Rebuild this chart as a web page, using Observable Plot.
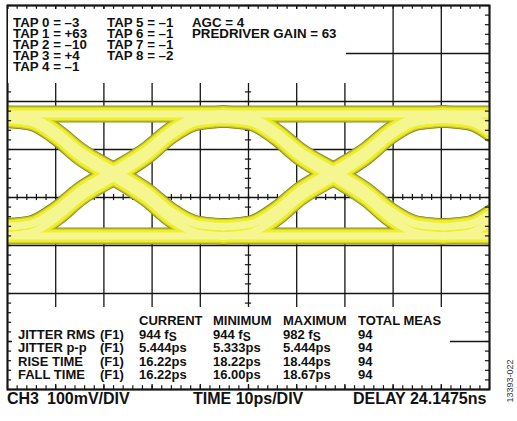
<!DOCTYPE html>
<html><head><meta charset="utf-8">
<script src="https://cdn.jsdelivr.net/npm/d3@7"></script>
<script src="https://cdn.jsdelivr.net/npm/@observablehq/plot@0.6"></script>
<style>
body{margin:0;background:#fff;}
#wrap{position:relative;width:517px;height:421px;overflow:hidden;font-family:"Liberation Sans",Arial,Helvetica,sans-serif;font-weight:bold;color:#111;}
#wrap svg{position:absolute;left:0;top:0;}
.box{position:absolute;background:#fff;}
.col{position:absolute;white-space:pre;}
.foot{position:absolute;white-space:pre;font-size:16px;line-height:16px;top:390.5px;}
.fig{position:absolute;font-weight:normal;font-size:9px;color:#333;white-space:nowrap;transform:translate(-50%,-50%) rotate(-90deg);}
</style></head><body><div id="wrap"></div>
<script>
// ---- axes (time in ps, 10 ps/div; voltage in mV, 100 mV/div) ----
const timeDivs = [0,10,20,30,40,50,60,70,80,90,100];
const voltDivs = [-400,-300,-200,-100,0,100,200,300,400];
const minorTime = d3.range(0, 100.01, 2);
const minorVolt = d3.range(-400, 400.01, 20);

// ---- eye diagram ----
const crossingTimes = [22.0, 67.6, 113.2];           // ps
const levelHigh = 174, levelHighIsolated = 163;      // mV
const levelLow = -80, levelLowIsolated = -61;        // mV
const edgeOffsets   = [-22.8, -17.2, -12.0, -6.8, 0, 6.8, 12.0, 17.2, 22.8]; // ps from crossing
const edgeFractions = [0, 0.025, 0.15, 0.33, 0.5, 0.68, 0.86, 0.975, 1];
const traceStarts = [levelHigh, levelHigh, levelHighIsolated, levelHighIsolated,
                     levelLow, levelLow, levelLowIsolated, levelLowIsolated, levelHigh, levelLow];
const traceEnds   = [levelLow, levelLowIsolated, levelLow, levelLowIsolated,
                     levelHigh, levelHighIsolated, levelHigh, levelHighIsolated, levelHigh, levelLow];

// ---- text ----
const tapCol1 = ["TAP 0 = –3","TAP 1 = +63","TAP 2 = –10","TAP 3 = +4","TAP 4 = –1"];
const tapCol2 = ["TAP 5 = –1","TAP 6 = –1","TAP 7 = –1","TAP 8 = –2"];
const tapCol3 = ["AGC = 4","PREDRIVER GAIN = 63"];
const measNames = ["JITTER RMS","JITTER p-p","RISE TIME","FALL TIME"];
const measSource = ["(F1)","(F1)","(F1)","(F1)"];
const measHeaders = ["CURRENT","MINIMUM","MAXIMUM","TOTAL MEAS"];
const measCurrent = ["944 f<sub>S</sub>","5.444ps","16.22ps","16.22ps"];
const measMinimum = ["944 f<sub>S</sub>","5.333ps","18.22ps","16.00ps"];
const measMaximum = ["982 f<sub>S</sub>","5.444ps","18.44ps","18.67ps"];
const measTotal   = ["94","94","94","94"];
const footLabels = ["CH3","100mV/DIV","TIME 10ps/DIV","DELAY 24.1475ns"];
const figureId = "13393-022";

// build trace table
const traces = [];
crossingTimes.forEach((c, ci) => {
  traceStarts.forEach((a, k) => {
    const b = traceEnds[k];
    edgeOffsets.forEach((dt, i) => {
      traces.push({id: ci * 100 + k, t: c + dt, v: a + (b - a) * edgeFractions[i]});
    });
  });
});

const ink = "#151515";
const lineOpts = (stroke, w) => ({x: "t", y: "v", z: "id", stroke, strokeWidth: w,
  curve: "monotone-x", strokeLinecap: "round", strokeLinejoin: "round", clip: true});

const chart = Plot.plot({
  width: 517, height: 421,
  marginLeft: 7, marginRight: 28, marginTop: 5, marginBottom: 32,
  x: {domain: [0, 100], axis: null},
  y: {domain: [-400, 400], axis: null},
  style: {background: "transparent", overflow: "visible"},
  marks: [
    Plot.ruleX(timeDivs, {stroke: ink, strokeWidth: 1.3}),
    Plot.ruleY(voltDivs, {stroke: ink, strokeWidth: 1.3}),
    // centre-line minor ticks
    Plot.ruleX(minorTime, {x: d => d, y1: -6.5, y2: 6.5, stroke: ink, strokeWidth: 1.2}),
    Plot.ruleY(minorVolt, {y: d => d, x1: 49.35, x2: 50.65, stroke: ink, strokeWidth: 1.2}),
    // eye traces
    Plot.line(traces, lineOpts("#8e8e24", 17)),
    Plot.line(traces, lineOpts("#c9c92a", 15)),
    Plot.line(traces, lineOpts("#eeee30", 12.5)),
    Plot.line(traces, lineOpts("#f6f690", 7)),
    // frame minor ticks
    Plot.ruleX(minorTime, {x: d => d, y1: 400, y2: 392, stroke: ink, strokeWidth: 1.2}),
    Plot.ruleX(minorTime, {x: d => d, y1: -400, y2: -392, stroke: ink, strokeWidth: 1.2}),
    Plot.ruleY(minorVolt, {y: d => d, x1: 0, x2: 0.85, stroke: ink, strokeWidth: 1.2}),
    Plot.ruleY(minorVolt, {y: d => d, x1: 100, x2: 99.15, stroke: ink, strokeWidth: 1.2}),
    Plot.frame({stroke: ink, strokeWidth: 2})
  ]
});

const wrap = document.getElementById("wrap");
wrap.appendChild(chart);

function addDiv(cls, style, html) {
  const d = document.createElement("div");
  d.className = cls;
  d.setAttribute("style", style);
  d.innerHTML = html;
  wrap.appendChild(d);
  return d;
}
// top settings box
addDiv("box", "left:8px;top:9px;width:338px;height:74px;", "");
const topCols = [[tapCol1, 13], [tapCol2, 107], [tapCol3, 192]];
topCols.forEach(([lines, x]) => addDiv("col", `left:${x}px;top:17px;font-size:13.3px;line-height:11px;`, lines.join("<br>")));

// measurement box
addDiv("box", "left:12px;top:307px;width:438px;height:77px;", "");
const tblTop = 314;
const tblCols = [
  [[""].concat(measNames), 18],
  [[""].concat(measSource), 100],
  [[measHeaders[0]].concat(measCurrent), 139],
  [[measHeaders[1]].concat(measMinimum), 213],
  [[measHeaders[2]].concat(measMaximum), 283],
  [[measHeaders[3]].concat(measTotal), 358]
];
tblCols.forEach(([lines, x]) => addDiv("col", `left:${x}px;top:${tblTop}px;font-size:13px;line-height:13.5px;`, lines.join("<br>")));
document.querySelectorAll(".col sub").forEach(s => s.setAttribute("style","font-size:12px;vertical-align:-2px;line-height:0;"));

// footer
const footX = [7, 47, 193, 353];
footLabels.forEach((t, i) => addDiv("foot", `left:${footX[i]}px;`, t));
addDiv("fig", "left:510px;top:381px;", figureId);
</script></body></html>
